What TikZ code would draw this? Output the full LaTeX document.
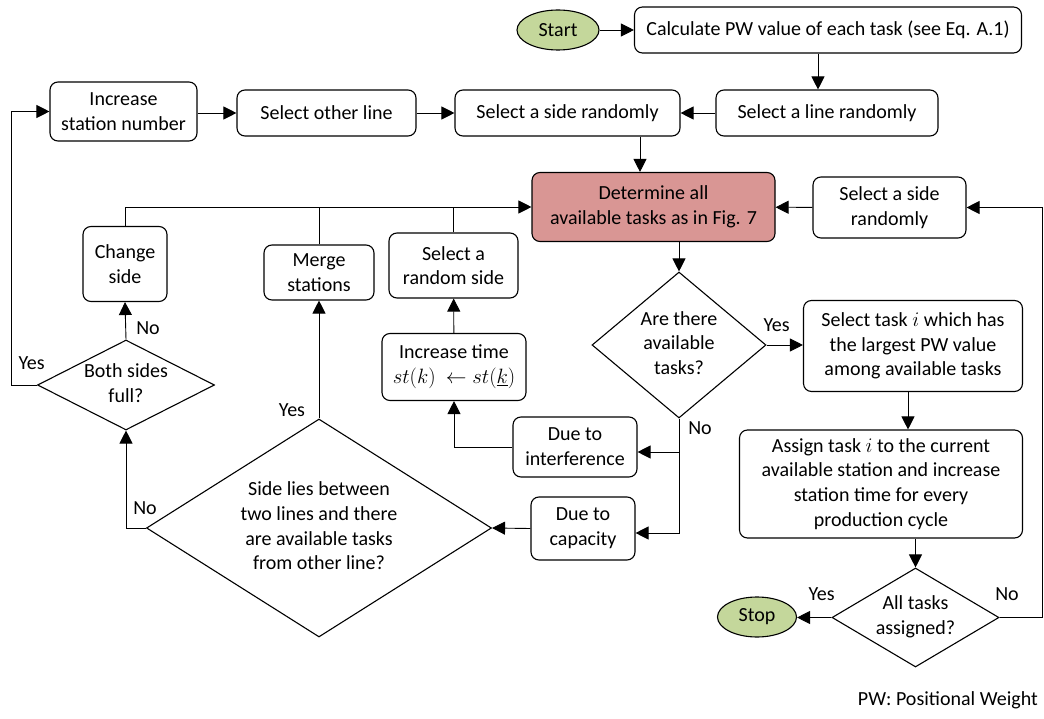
\documentclass[tikz,border=0pt]{standalone}
\usepackage{fontspec}
\setmainfont{Carlito}
\usetikzlibrary{shapes.geometric,arrows.meta}
\definecolor{startgreen}{RGB}{196,215,155}
\definecolor{detred}{RGB}{217,150,148}
\newcommand\dlab[1]{\smash{\raisebox{-5pt}{\makebox[0pt]{\begin{tabular}{@{}c@{}}#1\end{tabular}}}}}
\begin{document}
\begin{tikzpicture}[x=1pt,y=-1pt, font=\fontsize{20pt}{24.7pt}\selectfont,
 box/.style={draw, rounded corners=8pt, inner sep=0pt, align=center, line width=1.1pt},
 dia/.style={draw, diamond, inner sep=0pt, line width=1.1pt},
 term/.style={draw, ellipse, inner sep=0pt, fill=startgreen, line width=1.1pt},
 conn/.style={line width=0.9pt, -{Triangle[length=13pt,width=13pt]}},
 link/.style={line width=0.9pt},
 lab/.style={inner sep=0pt}]
\useasboundingbox (0,0) rectangle (1044,719);

\node[term, minimum width=82, minimum height=40] (start) at (558,30) {Start};
\node[box, minimum width=387, minimum height=46] (calc) at (828,30) {Calculate PW value of each task (see Eq. A.1)};
\node[box, minimum width=222, minimum height=46] (sline) at (827,113) {Select a line randomly};
\node[box, minimum width=225, minimum height=46] (sside) at (567.5,113) {Select a side randomly};
\node[box, minimum width=179, minimum height=46] (other) at (326.5,113) {Select other line};
\node[box, minimum width=147, minimum height=59] (incst) at (123.5,111.5) {Increase\\station number};
\node[box, fill=detred, minimum width=243, minimum height=69] (det) at (653.5,207) {Determine all\\available tasks as in Fig. 7};
\node[box, minimum width=153, minimum height=61] (sside2) at (889.5,207.5) {Select a side\\randomly};
\node[dia, minimum width=174, minimum height=146] (avail) at (679,345) {\dlab{Are there\\available\\tasks?}};
\node[box, minimum width=219, minimum height=91] (seltask) at (913,346) {Select task $i$ which has\\the largest PW value\\among available tasks};
\node[box, minimum width=283, minimum height=108] (assign) at (881,484) {Assign task $i$ to the current\\available station and increase\\station time for every\\production cycle};
\node[dia, minimum width=167, minimum height=99] (alltasks) at (915.5,617.5) {\dlab{All tasks\\assigned?}};
\node[term, minimum width=79, minimum height=40] (stop) at (757,617) {Stop};
\node[box, minimum width=124, minimum height=60] (interf) at (575,447) {Due to\\interference};
\node[box, minimum width=104, minimum height=63] (capac) at (583,528.5) {Due to\\capacity};
\node[dia, minimum width=345, minimum height=218] (bigd) at (319,528) {\dlab{Side lies between\\two lines and there\\are available tasks\\from other line?}};
\node[dia, minimum width=177, minimum height=90] (both) at (126,385) {\dlab{Both sides\\full?}};
\node[box, minimum width=84, minimum height=75] (chside) at (125,264) {Change\\side};
\node[box, minimum width=110, minimum height=55] (merge) at (319,272.5) {Merge\\stations};
\node[box, minimum width=129, minimum height=65] (rside) at (453.5,265.5) {Select a\\random side};
\node[box, minimum width=144, minimum height=67] (inctime) at (454,367) {Increase time\\$st(k)\ \leftarrow st(\underline{k})$};
\node[anchor=east, inner sep=0pt] (note) at (1038,700) {PW: Positional Weight};

\coordinate (rturn) at (1042,207.5);
\coordinate (nsplit) at (679,452);
\coordinate (ncap) at (679,533);
\coordinate (iturn) at (454,447);
\coordinate (lturn) at (11,385);

\draw[conn] (start) -- (calc);
\draw[conn] ([xshift=-10pt]calc.south) -- ([xshift=-10pt]calc.south |- sline.north);
\draw[conn] (sline) -- (sside);
\draw[conn] (other) -- (sside);
\draw[conn] (incst.east |- other.west) -- (other.west);
\draw[conn] ([xshift=72.5pt]sside.south) -- ([xshift=72.5pt]sside.south |- det.north);
\draw[conn] (sside2) -- (det);
\draw[conn] (avail.north |- det.south) -- (avail.north);
\draw[conn] (avail.east) -- (seltask.west |- avail.east);
\node[lab] (y1) at (776.7,325) {Yes};
\draw[conn] ([xshift=-5pt]seltask.south) -- ([xshift=-5pt]seltask.south |- assign.north);
\draw[conn] (alltasks.north |- assign.south) -- (alltasks.north);
\draw[conn] (alltasks.west) -- (stop.east |- alltasks.west);
\node[lab] (y2) at (821.7,594) {Yes};
\draw[conn] (alltasks.east) -| (rturn) -- (sside2.east);
\node[lab] (n1) at (1007,594) {No};
\draw[conn] (avail.south) -- (nsplit) -- (interf.east |- nsplit);
\draw[conn] (nsplit) -- (ncap) -- (capac.east |- ncap);
\node[lab] (n2) at (700,428) {No};
\draw[conn] (capac.west) -- (bigd.east);
\draw[conn] (interf.west) -- (iturn) -- (inctime.south);
\draw[conn] (inctime) -- (rside);
\draw[conn] (chside.north) |- (det.west);
\draw[link] (merge.north) -- (merge.north |- det.west);
\draw[link] (rside.north) -- (rside.north |- det.west);
\draw[conn] (bigd.north) -- (merge.south);
\node[lab] (y3) at (292,410) {Yes};
\draw[conn] (bigd.west) -| (both.south);
\node[lab] (n3) at (145,508) {No};
\draw[conn] (both.north) -- (chside.south);
\node[lab] (n4) at (148,328) {No};
\draw[conn] (both.west) -- (lturn) |- (incst.west);
\node[lab] (y4) at (31.7,363) {Yes};
\end{tikzpicture}
\end{document}
